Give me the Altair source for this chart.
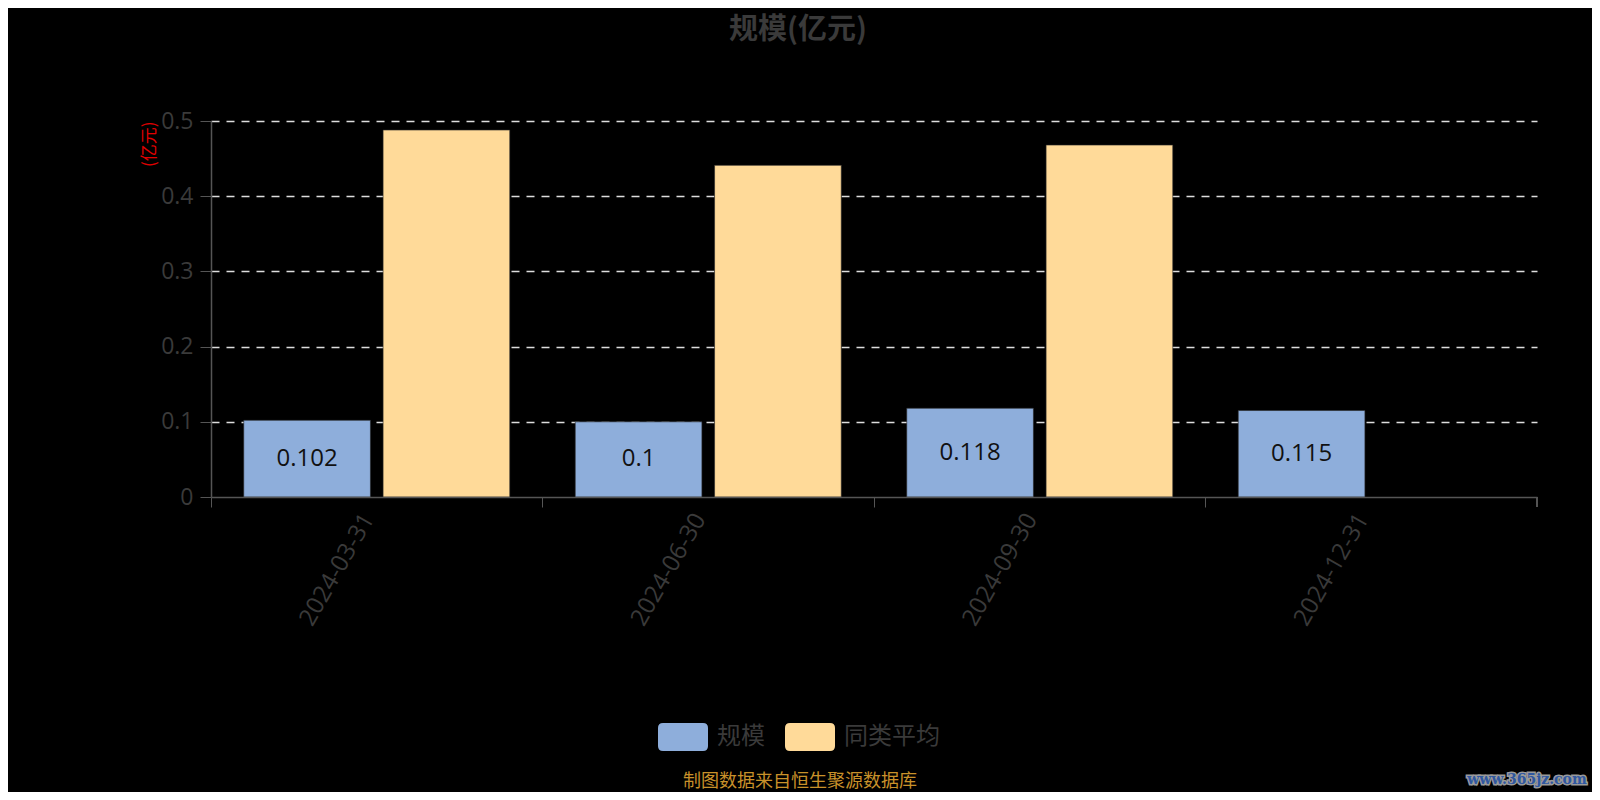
import altair as alt
import pandas as pd

dates = ["2024-03-31", "2024-06-30", "2024-09-30", "2024-12-31"]
scale_vals = [0.102, 0.1, 0.118, 0.115]
avg_vals = [0.488, 0.441, 0.468, None]
series_names = ["规模", "同类平均"]
colors = ["#8EAEDB", "#FFDA99"]
y_ticks = [0, 0.1, 0.2, 0.3, 0.4, 0.5]

rows = []
for d, s, a in zip(dates, scale_vals, avg_vals):
    rows.append({"date": d, "series": series_names[0], "value": s})
    if a is not None:
        rows.append({"date": d, "series": series_names[1], "value": a})
df = pd.DataFrame(rows)

FONT = "Open Sans, Noto Sans CJK SC, sans-serif"
CJK = "Noto Sans CJK SC, sans-serif"
W, H = 1326, 376

rounded = ("M -0.8,-0.56 L 0.8,-0.56 Q 1,-0.56 1,-0.36 L 1,0.36 "
           "Q 1,0.56 0.8,0.56 L -0.8,0.56 Q -1,0.56 -1,0.36 "
           "L -1,-0.36 Q -1,-0.56 -0.8,-0.56 Z")

x_enc = alt.X("date:N", sort=dates,
              scale=alt.Scale(paddingInner=0, paddingOuter=0),
              axis=alt.Axis(title=None, labelAngle=-60, labelAlign="right",
                            labelBaseline="middle", labelFontSize=24,
                            labelColor="#3a3a3a", labelFont=FONT, labelPadding=8,
                            bandPosition=0, tickColor="#555", tickSize=10,
                            domainColor="#555", domainWidth=1.5, grid=False,
                            labelOffset=-8, zindex=1))
xo_enc = alt.XOffset("series:N", sort=series_names,
                     scale=alt.Scale(domain=series_names, paddingInner=0.091,
                                     paddingOuter=0.235))
y_enc = alt.Y("value:Q",
              scale=alt.Scale(domain=[0, 0.5], nice=False),
              axis=alt.Axis(title="(亿元)", titleColor="#e00000", titleFont=CJK,
                            titleFontSize=17, titleFontWeight="normal",
                            titleAngle=-90, titleX=-62, titleY=0,
                            titleAlign="right", titleBaseline="middle",
                            values=y_ticks, format=".1~f", labelFontSize=23,
                            labelColor="#3a3a3a", labelFont=FONT, labelPadding=7,
                            tickColor="#555", tickSize=11, domainColor="#555",
                            domainWidth=1.5, gridColor="#dddddd", gridDash=[8, 7],
                            gridWidth=1.5,
                            gridOpacity={"condition": {"test": "datum.value === 0",
                                                       "value": 0},
                                         "value": 1}))

bars = alt.Chart(df).mark_bar(stroke="#2a2a2a", strokeWidth=1, strokeOpacity=0.6).encode(
    x=x_enc, xOffset=xo_enc, y=y_enc,
    color=alt.Color("series:N", sort=series_names,
                    scale=alt.Scale(domain=series_names, range=colors),
                    legend=alt.Legend(title=None, orient="none", direction="horizontal",
                                      legendX=447, legendY=591,
                                      symbolType=rounded, symbolSize=2500,
                                      symbolStrokeWidth=0, symbolOpacity=1,
                                      labelFontSize=24, labelColor="#3a3a3a",
                                      labelFont=CJK, labelOffset=9,
                                      columnPadding=20)),
)

labels = alt.Chart(df).transform_filter(
    alt.datum.series == series_names[0]
).transform_calculate(mid="datum.value / 2").mark_text(
    fontSize=24, color="#111111", font=FONT, baseline="middle"
).encode(
    x=alt.X("date:N", sort=dates), xOffset=xo_enc,
    y=alt.Y("mid:Q"), text=alt.Text("value:Q", format="~g"),
)

end_tick = alt.Chart(df).mark_rule(color="#555", strokeWidth=1.5).encode(
    x=alt.value(W), y=alt.value(H), y2=alt.value(H + 10))

footer = alt.Chart(pd.DataFrame({"t": ["制图数据来自恒生聚源数据库"]})).mark_text(
    fontSize=18, color="#C8912A", font=CJK, baseline="middle", align="center"
).encode(x=alt.value(589), y=alt.value(661), text="t:N")

wm_df = pd.DataFrame({"t": ["www.365jz.com"]})
wm_back = alt.Chart(wm_df).mark_text(
    fontSize=14, fontWeight="bold", font="DejaVu Serif", stroke="#9a9a9a",
    strokeWidth=3, color="#9a9a9a", align="center", baseline="middle"
).encode(x=alt.value(1316), y=alt.value(659), text="t:N")
wm_front = alt.Chart(wm_df).mark_text(
    fontSize=14, fontWeight="bold", font="DejaVu Serif", color="#2f57a0",
    align="center", baseline="middle"
).encode(x=alt.value(1316), y=alt.value(659), text="t:N")

chart = alt.layer(bars, labels, end_tick, footer, wm_back, wm_front).properties(
    width=W, height=H,
    title=alt.TitleParams("规模(亿元)", anchor="middle", frame="group", dx=-76,
                          fontSize=29, fontWeight="bold", color="#3a3a3a",
                          font=CJK, offset=65),
    autosize=alt.AutoSizeParams(type="none"),
    padding={"left": 203, "top": 113, "right": 55, "bottom": 295},
).configure(background="#000000").configure_view(stroke=None)

chart.save("out.html", embed_options={"renderer": "svg", "actions": False})
